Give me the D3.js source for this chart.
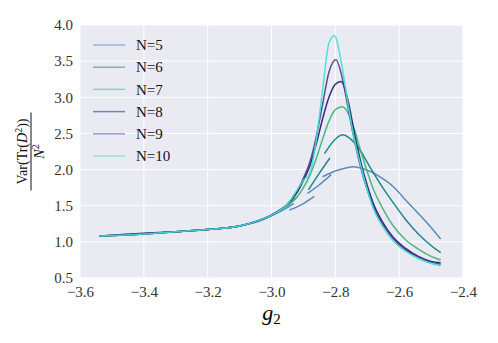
<!DOCTYPE html>
<html>
<head>
<meta charset="utf-8">
<script src="https://d3js.org/d3.v7.min.js"></script>
<style>
  body { margin: 0; background: #fff; }
</style>
</head>
<body>
<svg id="chart" width="498" height="343"></svg>
<script>
// legend labels
const seriesNames = ["N=5", "N=6", "N=7", "N=8", "N=9", "N=10"];
const xTicks = [-3.6, -3.4, -3.2, -3.0, -2.8, -2.6, -2.4];
const yTicks = [0.5, 1.0, 1.5, 2.0, 2.5, 3.0, 3.5, 4.0];

// each series is a list of segments, each segment a list of [g2, value]
const n5 = [
  [[-3.54,1.08],[-3.4,1.11],[-3.3,1.14],[-3.2,1.17],[-3.1,1.22],[-3.05,1.27],[-3.0,1.36],[-2.96,1.45],[-2.93,1.53]],
  [[-2.944,1.44],[-2.9,1.53],[-2.866,1.63]],
  [[-2.887,1.67],[-2.85,1.79],[-2.813,1.93]],
  [[-2.84,1.90],[-2.80,1.98],[-2.76,2.03],[-2.746,2.04],[-2.72,2.02],[-2.70,1.99],[-2.68,1.95],[-2.65,1.87],[-2.62,1.77],[-2.60,1.68],[-2.58,1.58],[-2.55,1.44],[-2.52,1.30],[-2.50,1.20],[-2.47,1.04]]
];
const n6 = [
  [[-3.54,1.08],[-3.4,1.11],[-3.3,1.14],[-3.2,1.17],[-3.1,1.22],[-3.05,1.28],[-3.0,1.37],[-2.96,1.48],[-2.92,1.62]],
  [[-2.884,1.72],[-2.85,1.95],[-2.817,2.16]],
  [[-2.834,2.22],[-2.80,2.42],[-2.777,2.48],[-2.76,2.45],[-2.74,2.37],[-2.72,2.25],[-2.70,2.10],[-2.68,1.95],[-2.65,1.74],[-2.62,1.55],[-2.58,1.31],[-2.54,1.11],[-2.50,0.95],[-2.47,0.85]]
];
const n7 = [
  [[-3.54,1.08],[-3.4,1.11],[-3.3,1.14],[-3.2,1.17],[-3.1,1.22],[-3.05,1.28],[-3.0,1.37],[-2.95,1.50],[-2.92,1.62],[-2.90,1.75],[-2.88,1.92],[-2.86,2.15],[-2.84,2.42],[-2.82,2.67],[-2.80,2.83],[-2.777,2.87],[-2.76,2.78],[-2.74,2.55],[-2.72,2.25],[-2.70,1.97],[-2.68,1.72],[-2.65,1.45],[-2.62,1.23],[-2.58,1.03],[-2.54,0.90],[-2.50,0.80],[-2.47,0.75]]
];
const n8 = [
  [[-3.54,1.08],[-3.4,1.12],[-3.3,1.14],[-3.2,1.17],[-3.1,1.22],[-3.05,1.28],[-3.0,1.37],[-2.95,1.52],[-2.92,1.68],[-2.90,1.85],[-2.88,2.05],[-2.86,2.35],[-2.84,2.70],[-2.82,3.00],[-2.80,3.18],[-2.782,3.22],[-2.76,2.95],[-2.74,2.50],[-2.72,2.10],[-2.70,1.78],[-2.68,1.52],[-2.65,1.26],[-2.62,1.07],[-2.58,0.91],[-2.54,0.80],[-2.50,0.73],[-2.47,0.71]]
];
const n9 = [
  [[-3.54,1.08],[-3.4,1.11],[-3.3,1.14],[-3.2,1.17],[-3.1,1.22],[-3.05,1.28],[-3.0,1.37],[-2.95,1.52],[-2.92,1.70],[-2.90,1.88],[-2.88,2.10],[-2.86,2.45],[-2.84,2.90],[-2.82,3.35],[-2.798,3.52],[-2.78,3.30],[-2.76,2.85],[-2.74,2.40],[-2.72,2.02],[-2.70,1.72],[-2.68,1.48],[-2.65,1.23],[-2.62,1.05],[-2.58,0.89],[-2.54,0.79],[-2.50,0.72],[-2.47,0.69]]
];
const n10 = [
  [[-3.54,1.08],[-3.4,1.11],[-3.3,1.14],[-3.2,1.17],[-3.1,1.22],[-3.05,1.28],[-3.0,1.37],[-2.95,1.52],[-2.92,1.72],[-2.90,1.85],[-2.88,1.95],[-2.86,2.40],[-2.84,3.10],[-2.82,3.75],[-2.803,3.85],[-2.78,3.45],[-2.76,2.90],[-2.74,2.41],[-2.72,2.05],[-2.70,1.72],[-2.68,1.45],[-2.65,1.20],[-2.62,1.02],[-2.58,0.87],[-2.54,0.77],[-2.50,0.70],[-2.47,0.67]]
];
const allSeries = [n5, n6, n7, n8, n9, n10];
const colors = ["#4682b4", "#008080", "#3cb371", "#191970", "#483d8b", "#40e0d0"];

const svg = d3.select("#chart");
const margin = {left: 80, top: 25, right: 35, bottom: 65};
const W = 498, H = 343;
const x = d3.scaleLinear().domain([-3.6, -2.4]).range([margin.left, W - margin.right]);
const y = d3.scaleLinear().domain([0.5, 4.0]).range([H - margin.bottom, margin.top]);
const serif = "'Liberation Serif', serif";

svg.append("rect")
  .attr("x", x(-3.6)).attr("y", y(4.0))
  .attr("width", x(-2.4) - x(-3.6)).attr("height", y(0.5) - y(4.0))
  .attr("fill", "#eaeaf2");

// grid
svg.append("g").selectAll("line").data(xTicks).join("line")
  .attr("x1", d => x(d)).attr("x2", d => x(d))
  .attr("y1", y(0.5)).attr("y2", y(4.0))
  .attr("stroke", "#fff").attr("stroke-width", 1);
svg.append("g").selectAll("line").data(yTicks).join("line")
  .attr("y1", d => y(d)).attr("y2", d => y(d))
  .attr("x1", x(-3.6)).attr("x2", x(-2.4))
  .attr("stroke", "#fff").attr("stroke-width", 1);

const fmt = d => d3.format(".1f")(d).replace("-", "\u2212");

// axes (no domain line, no ticks; seaborn darkgrid look)
const xAxis = svg.append("g")
  .attr("transform", `translate(0,${y(0.5)})`)
  .call(d3.axisBottom(x).tickValues(xTicks).tickFormat(fmt).tickSize(0).tickPadding(8));
const yAxis = svg.append("g")
  .attr("transform", `translate(${x(-3.6)},0)`)
  .call(d3.axisLeft(y).tickValues(yTicks).tickFormat(fmt).tickSize(0).tickPadding(7));
[xAxis, yAxis].forEach(g => {
  g.attr("font-family", null);
  g.select(".domain").remove();
  g.selectAll("text")
    .style("font-family", serif)
    .attr("font-size", 15)
    .attr("fill", "#333");
});

// curves
const line = d3.line()
  .x(d => x(d[0])).y(d => y(d[1]))
  .curve(d3.curveMonotoneX);

allSeries.forEach((segs, i) => {
  svg.append("g").selectAll("path").data(segs).join("path")
    .attr("d", line)
    .attr("fill", "none")
    .attr("stroke", colors[i])
    .attr("stroke-width", 1.5)
    .attr("stroke-opacity", 0.9);
});

// legend
const legend = svg.append("g");
seriesNames.forEach((name, i) => {
  const ly = 45 + i * 22.2;
  legend.append("line")
    .attr("x1", 93).attr("x2", 125).attr("y1", ly).attr("y2", ly)
    .attr("stroke", colors[i]).attr("stroke-width", 1.5).attr("stroke-opacity", 0.5);
  legend.append("text")
    .attr("x", 136).attr("y", ly).attr("dy", "0.35em")
    .style("font-family", serif)
    .attr("font-size", 15).attr("fill", "#111")
    .text(name);
});

// x label
svg.append("text")
  .attr("x", (x(-3.6) + x(-2.4)) / 2).attr("y", 320)
  .attr("text-anchor", "middle")
  .style("font-family", serif)
  .attr("font-size", 22).attr("font-style", "italic")
  .html('g<tspan font-size="15" font-style="normal" dy="4">2</tspan>');

// y label: fraction rotated
const yl = svg.append("g")
  .attr("transform", `translate(31,${(y(0.5) + y(4.0)) / 2}) rotate(-90)`);
yl.append("line").attr("x1", -39).attr("x2", 39).attr("y1", 0).attr("y2", 0)
  .attr("stroke", "#111").attr("stroke-width", 1);
yl.append("text").attr("x", 0).attr("y", -4).attr("text-anchor", "middle")
  .style("font-family", serif)
  .attr("font-size", 14).attr("fill", "#111")
  .html('Var(Tr(<tspan font-style="italic">D</tspan><tspan font-size="10" dy="-5">2</tspan><tspan dy="5">))</tspan>');
yl.append("text").attr("x", 0).attr("y", 13).attr("text-anchor", "middle")
  .style("font-family", serif)
  .attr("font-size", 14).attr("fill", "#111")
  .html('<tspan font-style="italic">N</tspan><tspan font-size="10" dy="-5">2</tspan>');
</script>
</body>
</html>
